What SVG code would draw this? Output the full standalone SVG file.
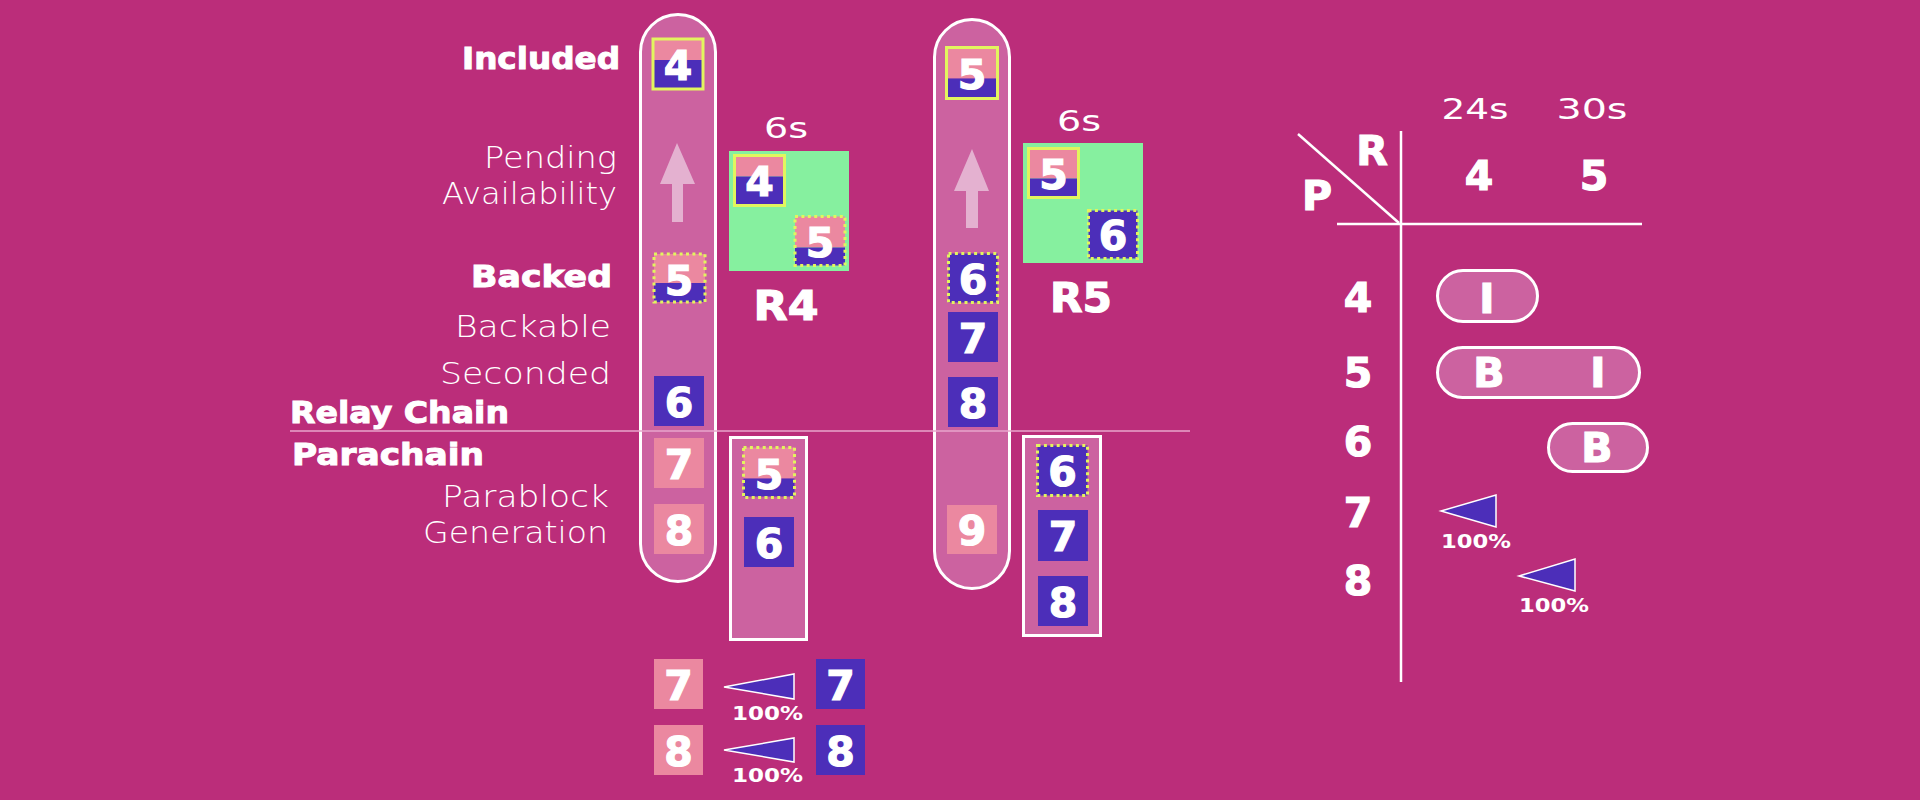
<svg xmlns="http://www.w3.org/2000/svg" width="1920" height="800" viewBox="0 0 1920 800">
<style>
.bg{fill:#bb2d7a}
.cap{fill:#cc62a0;stroke:#fff;stroke-width:3}
.pk{fill:#eb88a0}
.pu{fill:#4c2eb9}
.gr{fill:#86f09f}
.solid{fill:none;stroke:#e2f55e;stroke-width:3}
.dot{fill:none;stroke:#e2f55e;stroke-width:3;stroke-dasharray:3 3.4}
.arr{fill:#e4b1d0}
.d{font-family:"DejaVu Sans",sans-serif;font-weight:bold;font-size:41px;fill:#fff;stroke:#fff;stroke-width:1.2;text-anchor:middle}
.lb{font-family:"DejaVu Sans",sans-serif;font-weight:bold;font-size:31px;fill:#fff;stroke:#fff;stroke-width:1}
.lr{font-family:"DejaVu Sans",sans-serif;font-weight:300;font-size:30px;fill:#fff}
.sm{font-family:"DejaVu Sans",sans-serif;font-size:28px;fill:#fff;text-anchor:middle}
.pc{font-family:"DejaVu Sans",sans-serif;font-weight:bold;font-size:20px;fill:#fff}
.tri{fill:#4c2eb9;stroke:#fff;stroke-width:1.5;stroke-linejoin:miter}
.ln{stroke:#fff;stroke-width:2.5;fill:none}
</style>
<rect class="bg" x="0" y="0" width="1920" height="800"/>

<g id="labels">
<text class="lb" x="620" y="69" text-anchor="end" textLength="158" lengthAdjust="spacingAndGlyphs">Included</text>
<text class="lr" x="617" y="168" text-anchor="end" textLength="133" lengthAdjust="spacingAndGlyphs">Pending</text>
<text class="lr" x="617" y="204" text-anchor="end" textLength="175" lengthAdjust="spacingAndGlyphs">Availability</text>
<text class="lb" x="612" y="287" text-anchor="end" textLength="141" lengthAdjust="spacingAndGlyphs">Backed</text>
<text class="lr" x="611" y="337" text-anchor="end" textLength="156" lengthAdjust="spacingAndGlyphs">Backable</text>
<text class="lr" x="611" y="384" text-anchor="end" textLength="171" lengthAdjust="spacingAndGlyphs">Seconded</text>
<text class="lb" x="290" y="423" textLength="219" lengthAdjust="spacingAndGlyphs">Relay Chain</text>
<text class="lb" x="292" y="465" textLength="192" lengthAdjust="spacingAndGlyphs">Parachain</text>
<text class="lr" x="609" y="507" text-anchor="end" textLength="167" lengthAdjust="spacingAndGlyphs">Parablock</text>
<text class="lr" x="608" y="543" text-anchor="end" textLength="185" lengthAdjust="spacingAndGlyphs">Generation</text>
</g>

<g id="r4-capsule">
<rect class="cap" x="640.5" y="14.5" width="75" height="567" rx="37.5"/>
<polygon class="arr" points="677,143 695,184 683,184 683,222 672,222 672,184 660,184"/>
<g id="r4-inc-4">
<rect class="pk" x="653" y="39" width="50" height="21"/><rect class="pu" x="653" y="60" width="50" height="29"/>
<rect class="solid" x="653" y="39" width="50" height="50"/>
<text class="d" x="678" y="80">4</text></g>
<g id="r4-back-5">
<rect class="pk" x="654" y="254" width="51" height="29"/><rect class="pu" x="654" y="283" width="51" height="19"/>
<rect class="dot" x="654" y="254" width="51" height="48"/>
<text class="d" x="679" y="295">5</text></g>
<g id="r4-6"><rect class="pu" x="654" y="376" width="50" height="50"/><text class="d" x="679" y="417">6</text></g>
<g id="r4-7"><rect class="pk" x="654" y="438" width="50" height="50"/><text class="d" x="679" y="479">7</text></g>
<g id="r4-8"><rect class="pk" x="654" y="504" width="50" height="50"/><text class="d" x="679" y="545">8</text></g>
</g>

<g id="r4-green">
<rect class="gr" x="729" y="151" width="120" height="120"/>
<text class="sm" x="786" y="138" textLength="44" lengthAdjust="spacingAndGlyphs">6s</text>
<g id="r4g-4">
<rect class="pk" x="734.5" y="155.5" width="50" height="21"/><rect class="pu" x="734.5" y="176.5" width="50" height="29"/>
<rect class="solid" x="734.5" y="155.5" width="50" height="50"/>
<text class="d" x="759.5" y="196">4</text></g>
<g id="r4g-5">
<rect class="pk" x="795" y="216.5" width="50" height="31"/><rect class="pu" x="795" y="247.5" width="50" height="18"/>
<rect class="dot" x="795" y="216.5" width="50" height="49"/>
<text class="d" x="820" y="257">5</text></g>
<text class="d" x="786" y="320" font-size="41" textLength="65" lengthAdjust="spacingAndGlyphs">R4</text>
</g>

<g id="r4-para">
<rect class="cap" x="730.5" y="437.5" width="76" height="202"/>
<g id="r4p-5">
<rect class="pk" x="743.5" y="447.5" width="51" height="31"/><rect class="pu" x="743.5" y="478.5" width="51" height="18"/>
<rect class="dot" x="743.5" y="447.5" width="51" height="50"/>
<text class="d" x="769" y="489">5</text></g>
<g id="r4p-6"><rect class="pu" x="744" y="517" width="50" height="50"/><text class="d" x="769" y="558">6</text></g>
</g>

<g id="r5-capsule">
<rect class="cap" x="934.5" y="19.5" width="75" height="569" rx="37.5"/>
<polygon class="arr" points="972,149 989,191 978,191 978,228 966,228 966,191 954,191"/>
<g id="r5-inc-5">
<rect class="pk" x="946.5" y="47.5" width="51" height="31"/><rect class="pu" x="946.5" y="78.5" width="51" height="20"/>
<rect class="solid" x="946.5" y="47.5" width="51" height="51"/>
<text class="d" x="972" y="89">5</text></g>
<g id="r5-back-6">
<rect class="pu" x="948.5" y="253.5" width="49" height="49"/>
<rect class="dot" x="948.5" y="253.5" width="49" height="49"/>
<text class="d" x="973" y="294">6</text></g>
<g id="r5-7"><rect class="pu" x="948" y="312" width="50" height="50"/><text class="d" x="973" y="353">7</text></g>
<g id="r5-8"><rect class="pu" x="948" y="377" width="50" height="50"/><text class="d" x="973" y="418">8</text></g>
<g id="r5-9"><rect class="pk" x="947" y="505" width="50" height="49"/><text class="d" x="972" y="545">9</text></g>
</g>

<g id="r5-green">
<rect class="gr" x="1023" y="143" width="120" height="120"/>
<text class="sm" x="1079" y="131" textLength="44" lengthAdjust="spacingAndGlyphs">6s</text>
<g id="r5g-5">
<rect class="pk" x="1028.5" y="148.5" width="50" height="30"/><rect class="pu" x="1028.5" y="178.5" width="50" height="19"/>
<rect class="solid" x="1028.5" y="148.5" width="50" height="49"/>
<text class="d" x="1053.5" y="189">5</text></g>
<g id="r5g-6">
<rect class="pu" x="1088.5" y="210.5" width="49" height="48"/>
<rect class="dot" x="1088.5" y="210.5" width="49" height="48"/>
<text class="d" x="1113" y="250">6</text></g>
<text class="d" x="1081" y="312" font-size="41" textLength="62" lengthAdjust="spacingAndGlyphs">R5</text>
</g>

<g id="r5-para">
<rect class="cap" x="1023.5" y="436.5" width="77" height="199"/>
<g id="r5p-6">
<rect class="pu" x="1037.5" y="445.5" width="50" height="50"/>
<rect class="dot" x="1037.5" y="445.5" width="50" height="50"/>
<text class="d" x="1062.5" y="486">6</text></g>
<g id="r5p-7"><rect class="pu" x="1038" y="510" width="50" height="51"/><text class="d" x="1063" y="551">7</text></g>
<g id="r5p-8"><rect class="pu" x="1038" y="576" width="50" height="50"/><text class="d" x="1063" y="617">8</text></g>
</g>

<line x1="290" y1="431" x2="1190" y2="431" stroke="#e9a6cc" stroke-width="1.5"/>

<g id="bottom">
<g id="b-p7"><rect class="pk" x="654" y="659" width="49" height="50"/><text class="d" x="678.5" y="700">7</text></g>
<g id="b-p8"><rect class="pk" x="654" y="725" width="49" height="50"/><text class="d" x="678.5" y="766">8</text></g>
<g id="b-u7"><rect class="pu" x="816" y="659" width="49" height="50"/><text class="d" x="840.5" y="700">7</text></g>
<g id="b-u8"><rect class="pu" x="816" y="725" width="49" height="50"/><text class="d" x="840.5" y="766">8</text></g>
<g id="connectors">
<polygon class="tri" points="724,687 794,674 794,699"/>
<polygon class="tri" points="724,750 794,738 794,762"/>
<polygon class="tri" points="1441,511 1496,495 1496,527"/>
<polygon class="tri" points="1519,576 1575,559 1575,591"/>
</g>
<text class="pc" x="732" y="720" textLength="71" lengthAdjust="spacingAndGlyphs">100%</text>
<text class="pc" x="732" y="782" textLength="71" lengthAdjust="spacingAndGlyphs">100%</text>
</g>

<g id="table">
<line class="ln" x1="1298" y1="134" x2="1399" y2="223"/>
<line class="ln" x1="1401" y1="131" x2="1401" y2="682"/>
<line class="ln" x1="1337" y1="224" x2="1642" y2="224"/>
<text class="sm" x="1475" y="119" font-size="29" textLength="67" lengthAdjust="spacingAndGlyphs">24s</text>
<text class="sm" x="1592" y="119" font-size="29" textLength="71" lengthAdjust="spacingAndGlyphs">30s</text>
<text class="d" x="1372" y="165" font-size="32">R</text>
<text class="d" x="1317" y="210" font-size="32">P</text>
<text class="d" x="1479" y="190" font-size="44">4</text>
<text class="d" x="1594" y="190" font-size="44">5</text>
<text class="d" x="1358" y="312">4</text>
<text class="d" x="1358" y="387">5</text>
<text class="d" x="1358" y="456">6</text>
<text class="d" x="1358" y="527">7</text>
<text class="d" x="1358" y="595">8</text>
<g id="pill-4"><rect class="cap" x="1437.5" y="270.5" width="100" height="51" rx="25.5"/><text class="d" x="1487" y="313">I</text></g>
<g id="pill-5"><rect class="cap" x="1437.5" y="347.5" width="202" height="50" rx="25"/><text class="d" x="1489" y="387">B</text><text class="d" x="1598" y="387">I</text></g>
<g id="pill-6"><rect class="cap" x="1548.5" y="423.5" width="99" height="48" rx="24"/><text class="d" x="1597" y="462">B</text></g>
<text class="pc" x="1441" y="548" textLength="70" lengthAdjust="spacingAndGlyphs">100%</text>
<text class="pc" x="1519" y="612" textLength="70" lengthAdjust="spacingAndGlyphs">100%</text>
</g>
</svg>
